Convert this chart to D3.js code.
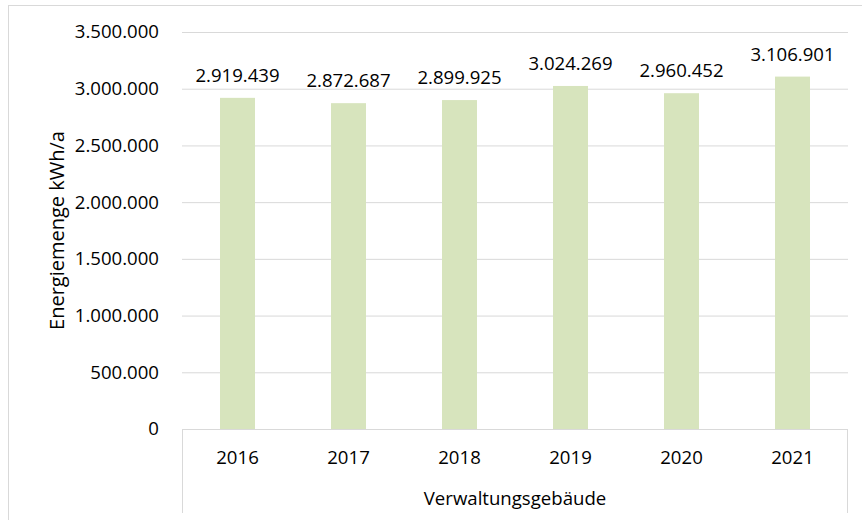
<!DOCTYPE html>
<html>
<head>
<meta charset="utf-8">
<script src="https://cdn.jsdelivr.net/npm/d3@7"></script>
<style>
  body { margin: 0; background: #fff; }
  svg text { font-family: "Open Sans", sans-serif; fill: #000; }
</style>
</head>
<body>
<div id="chart"></div>
<script>
var years  = ["2016", "2017", "2018", "2019", "2020", "2021"];
var values = [2919439, 2872687, 2899925, 3024269, 2960452, 3106901];
var yTicks = [0, 500000, 1000000, 1500000, 2000000, 2500000, 3000000, 3500000];
var groupLabel = "Verwaltungsgebäude";
var yTitle = "Energiemenge kWh/a";

var svgWidth = 862, svgHeight = 520;
var margin = {top: 32, right: 14, bottom: 91, left: 182},
    width  = svgWidth - margin.left - margin.right,
    height = svgHeight - margin.top - margin.bottom;

var fontSize = "18.6px";

var fmt = d3.formatLocale({decimal: ",", thousands: ".", grouping: [3], currency: ["", "€"]}).format(",d");

var svg = d3.select("#chart").append("svg")
    .attr("width", svgWidth)
    .attr("height", svgHeight);

// chart border
svg.append("rect")
    .attr("x", 8.5).attr("y", 5.5)
    .attr("width", 862).attr("height", 530)
    .attr("fill", "none")
    .attr("stroke", "#d9d9d9");

var g = svg.append("g")
    .attr("transform", `translate(${margin.left}, ${margin.top})`);

var x = d3.scaleBand()
    .domain(years)
    .range([0, width])
    .paddingInner(0.685)
    .paddingOuter(0.3425);

var y = d3.scaleLinear()
    .domain([0, 3500000])
    .range([height, 0]);

// gridlines
g.append("g")
    .attr("class", "grid")
    .call(d3.axisLeft(y).tickValues(yTicks).tickSize(-width).tickFormat(""))
    .call(s => s.select(".domain").remove())
    .selectAll("line").attr("stroke", "#d9d9d9");

// y labels
g.append("g")
    .call(d3.axisLeft(y).tickValues(yTicks).tickSize(0).tickPadding(23).tickFormat(fmt))
    .call(s => s.select(".domain").remove())
    .selectAll("text").style("font-size", fontSize);

// bars
g.selectAll("rect.bar")
    .data(values)
    .enter().append("rect")
    .attr("class", "bar")
    .attr("x", (d, i) => x(years[i]))
    .attr("width", x.bandwidth())
    .attr("y", d => y(d))
    .attr("height", d => height - y(d))
    .attr("fill", "#d7e4bd");

// value labels
g.selectAll("text.val")
    .data(values)
    .enter().append("text")
    .attr("class", "val")
    .attr("x", (d, i) => x(years[i]) + x.bandwidth() / 2)
    .attr("y", d => y(d) - 16)
    .attr("text-anchor", "middle")
    .style("font-size", fontSize)
    .text(d => fmt(d));

// x axis with group box
var ax = g.append("g").attr("transform", `translate(0, ${height})`);
ax.append("line").attr("x1", 0).attr("x2", width).attr("y1", 0.5).attr("y2", 0.5).attr("stroke", "#d9d9d9");
ax.append("line").attr("x1", 0.5).attr("x2", 0.5).attr("y1", 0).attr("y2", 84).attr("stroke", "#d9d9d9");
ax.append("line").attr("x1", width - 0.5).attr("x2", width - 0.5).attr("y1", 0).attr("y2", 84).attr("stroke", "#d9d9d9");

ax.selectAll("text.cat")
    .data(years)
    .enter().append("text")
    .attr("class", "cat")
    .attr("x", d => x(d) + x.bandwidth() / 2)
    .attr("y", 35)
    .attr("text-anchor", "middle")
    .style("font-size", fontSize)
    .text(d => d);

ax.append("text")
    .attr("x", width / 2)
    .attr("y", 76)
    .attr("text-anchor", "middle")
    .style("font-size", fontSize)
    .text(groupLabel);

// y title
svg.append("text")
    .attr("transform", `translate(64, ${margin.top + height / 2}) rotate(-90)`)
    .attr("text-anchor", "middle")
    .style("font-size", "20px")
    .text(yTitle);
</script>
</body>
</html>
